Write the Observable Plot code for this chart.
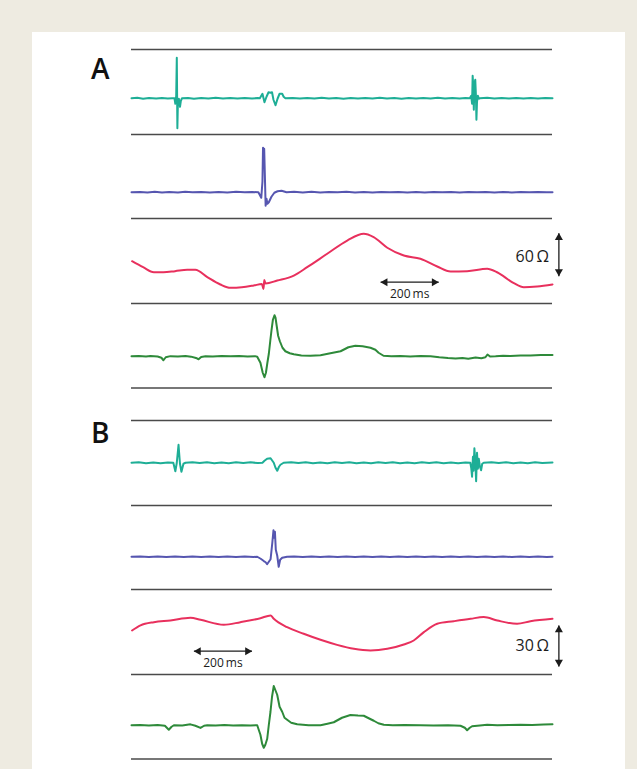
<!DOCTYPE html>
<html><head><meta charset="utf-8">
<script src="https://cdn.jsdelivr.net/npm/d3@7"></script>
<script src="https://cdn.jsdelivr.net/npm/@observablehq/plot@0.6"></script>
<style>
html,body{margin:0;padding:0;}
body{width:637px;height:769px;background:#eeebe1;position:relative;overflow:hidden;font-family:"Open Sans",sans-serif;}
#panel{position:absolute;left:32px;top:32px;width:593px;height:737px;background:#fff;}
.chart{position:absolute;left:0;}
.lbl{position:absolute;left:91px;font-size:28px;font-weight:600;line-height:28px;color:#111;font-family:"Open Sans",sans-serif;}
</style></head><body>
<div id="panel"></div>
<div class="lbl" style="top:54px">A</div>
<div class="lbl" style="top:418px">B</div>
<div id="charts"></div>
<script>
// time in ms, amplitude in arbitrary units (EGM/ECG) or ohms (impedance)
const panelNames = ["A", "B"];
const channelNames = ["egm1", "egm2", "impedance", "ecg"];

const aTeal = [[0,-6.5],[20,-6.1],[40,-6.9],[60,-6.2],[85,-6.8],[105,-6.2],[125,-6.8],[140,-6.4],[148,-6.5],[151,-12],[154,-4],[156,34],[158,-36.5],[160,-8],[163,-7],[167,-15],[170,-9],[174,-6.5],[195,-6.2],[215,-6.9],[240,-6.2],[265,-6.8],[290,-6.1],[315,-6.8],[340,-6.3],[365,-6.8],[390,-6.2],[415,-6.8],[435,-6.3],[442,-6.5],[451,-2],[458,-10.5],[465,-5],[472,-0.5],[478,-1],[484,-0.5],[489,-8],[496,-13.5],[503,-7],[510,-2],[519,-2],[524,-5],[530,-6.5],[555,-6.2],[580,-6.8],[605,-6.2],[630,-6.8],[655,-6.1],[680,-6.8],[705,-6.2],[730,-6.9],[755,-6.2],[780,-6.8],[805,-6.2],[830,-6.8],[855,-6.1],[880,-6.8],[905,-6.2],[930,-6.9],[955,-6.2],[980,-6.8],[1005,-6.2],[1030,-6.8],[1055,-6.1],[1080,-6.8],[1105,-6.2],[1130,-6.8],[1150,-6.3],[1165,-6.5],[1170,-4],[1173,-12],[1175,16],[1177,6],[1179,-18],[1181,8],[1184,12],[1186,-2],[1188,-28],[1190,-10],[1193,-4],[1197,-7],[1200,-6.5],[1225,-6.1],[1250,-6.8],[1275,-6.2],[1300,-6.8],[1325,-6.2],[1350,-6.8],[1375,-6.2],[1400,-6.8],[1425,-6.2],[1450,-6.5]];

const aBlue = [[0,-15.5],[30,-15.2],[55,-15.7],[80,-15.1],[105,-15.8],[130,-15.2],[160,-15.7],[185,-14.9],[210,-15.6],[240,-15.2],[270,-15.8],[300,-15.2],[330,-15.7],[360,-15.1],[390,-15.6],[415,-15.3],[437,-15.5],[447,-21],[451,-5],[453,29],[455,18],[457,28],[459,5],[462,-29],[465,-22],[468,-27],[473,-25.5],[482,-20],[492,-16],[503,-14.5],[517,-14],[534,-15.5],[560,-15.1],[590,-15.7],[620,-15.1],[650,-15.7],[680,-15.2],[710,-15.6],[740,-15.1],[770,-15.7],[800,-15.2],[830,-15.8],[860,-15.2],[890,-15.6],[920,-15.2],[950,-15.7],[980,-15.2],[1010,-15.8],[1040,-15.2],[1070,-15.6],[1100,-15.2],[1130,-15.7],[1160,-15.2],[1190,-15.6],[1220,-15.2],[1250,-15.7],[1280,-15.2],[1310,-15.7],[1340,-15.3],[1370,-15.6],[1400,-15.2],[1430,-15.6],[1450,-15.4]];

const aRed = [[2,-0.6],[40,-9],[77,-16.0],[110,-16.0],[150,-14.5],[192,-12.6],[220,-12.6],[261,-22.9],[306,-33.1],[341,-37.7],[380,-37],[421,-34.5],[449,-32.4],[454.6,-39.4],[457.4,-26.9],[461.5,-31.7],[502,-27.6],[559,-20.6],[605,-9.0],[674,9.7],[743,28.2],[800,37.6],[834,32.9],[881,18.1],[938,7.3],[995,2.7],[1053,-8.0],[1099,-15.0],[1156,-14.6],[1225,-11.2],[1259,-16.0],[1317,-31.3],[1351,-36.9],[1397,-35.9],[1450,-33.1]];

const aGreen = [[0,-10.5],[25,-10.2],[50,-10.8],[65,-10.3],[90,-10.7],[103,-12],[110,-14.5],[118,-11.5],[134,-10.4],[160,-10.7],[186,-10.2],[205,-10.9],[222,-12.2],[231,-13.5],[240,-11.2],[255,-10.4],[280,-10.7],[310,-10.2],[341,-10.6],[370,-10.3],[400,-10.7],[425,-10.4],[433,-11],[444,-17],[452,-27],[458,-31.5],[463,-27],[468,-17],[473,-8],[478,5],[482,15],[487,26],[492.5,30.5],[496,28],[500,20],[505,10],[511,4.5],[520,-2],[530,-5.5],[545,-7.5],[559,-8.5],[585,-9.8],[616,-10],[651,-9.5],[685,-7.5],[720,-5.5],[747,-1.5],[771,0],[796,-0.5],[823,-2],[840,-4],[851,-7],[868,-10],[895,-10.5],[926,-10.2],[960,-10.7],[995,-10.2],[1030,-10.5],[1060,-11.5],[1090,-12.3],[1116,-12.8],[1140,-12.3],[1160,-13],[1185,-11.8],[1205,-12.4],[1219,-11.5],[1226,-8.8],[1235,-10.8],[1254,-10.6],[1280,-10],[1305,-10.2],[1340,-9.7],[1374,-9.8],[1410,-9.3],[1450,-9.3]];

const bTeal = [[0,0],[25,0.4],[50,-0.4],[75,0.3],[100,-0.4],[125,0.3],[144,0],[151,-8.5],[156,0],[160,12],[162,18],[164,10],[167,-1],[172,-9],[179,-1],[186,0],[210,0.4],[235,-0.3],[260,0.4],[285,-0.4],[310,0.3],[335,-0.4],[360,0.4],[385,-0.3],[410,0.4],[435,-0.3],[451,0],[458,2],[467,4],[479,4.5],[490,0],[496,-5],[502,-8],[508,-4],[513,-2],[524,0],[550,0.4],[575,-0.3],[600,0.4],[625,-0.4],[650,0.3],[675,-0.4],[700,0.4],[725,-0.3],[750,0.4],[775,-0.4],[800,0.3],[825,-0.4],[850,0.4],[875,-0.3],[900,0.4],[925,-0.4],[950,0.3],[975,-0.4],[1000,0.4],[1025,-0.3],[1050,0.4],[1075,-0.4],[1100,0.3],[1125,-0.4],[1150,0.3],[1167,0],[1170,-5],[1173,-14],[1176,6],[1178,-8],[1181,14.5],[1184,2],[1187,-18.5],[1190,10],[1193,-6],[1196,4],[1200,-4],[1204,-7.5],[1208,-1],[1213,0],[1240,0.4],[1265,-0.3],[1290,0.4],[1315,-0.4],[1340,0.3],[1365,-0.4],[1390,0.4],[1415,-0.3],[1450,0.2]];

const bBlue = [[0,-9],[30,-8.7],[60,-9.3],[90,-8.7],[120,-9.3],[150,-8.8],[180,-9.3],[210,-8.7],[240,-9.2],[270,-8.8],[300,-9.3],[330,-8.7],[360,-9.2],[390,-8.8],[420,-9.2],[433,-9],[445,-11],[455.6,-13.3],[462,-14.5],[467,-16.5],[473,-14],[479,-11.5],[485,5],[489,17.5],[492,10],[494,16],[497,-2],[502,-8],[507,-19],[512,-12],[519,-10],[536,-9],[560,-8.7],[590,-9.3],[620,-8.7],[650,-9.2],[680,-8.8],[710,-9.3],[740,-8.7],[770,-9.2],[800,-8.8],[830,-9.3],[860,-8.7],[890,-9.2],[920,-8.8],[950,-9.3],[980,-8.7],[1010,-9.2],[1040,-8.8],[1070,-9.3],[1100,-8.7],[1130,-9.2],[1160,-8.8],[1190,-9.3],[1220,-8.7],[1250,-9.2],[1280,-8.8],[1310,-9.3],[1340,-8.7],[1370,-9.2],[1400,-8.8],[1430,-9.2],[1450,-9]];

const bRed = [[2,0.9],[31,4.6],[77,7.0],[134,8.2],[203,10.2],[238,8.7],[318,5.1],[375,7.0],[444,9.9],[479,11.9],[490,9.5],[536,3.3],[593,-1.5],[651,-5.9],[708,-9.6],[766,-12.5],[823,-13.7],[881,-12.5],[938,-9.3],[972,-6.4],[1007,-0.3],[1053,5.8],[1110,7.7],[1168,9.5],[1213,10.7],[1260,8.2],[1328,5.8],[1374,7.7],[1450,9.5]];

const bGreen = [[0,-8.5],[30,-8.2],[60,-8.8],[90,-8.3],[115,-9],[128.5,-13],[138,-10],[146,-8.5],[175,-8.7],[203,-7.6],[220,-9],[237.6,-11.2],[250,-9],[261,-8.5],[290,-8.7],[320,-8.3],[350,-8.8],[380,-8.4],[410,-8.7],[433,-8.5],[444,-18],[450,-27],[455.6,-31],[461,-28],[467.4,-22],[473,-8],[478.7,5],[484,20],[490,30.75],[495,27],[501.8,22],[510,10],[519,5],[527,-1],[536,-3],[550,-6],[570.7,-7.5],[610,-8.5],[651,-8.5],[675,-7],[696.7,-5.5],[725,-1],[754,1.75],[780,1.2],[800,1],[817,-1.5],[834.5,-4],[850,-6.5],[869,-8],[900,-8.5],[940,-8.3],[995,-8.5],[1040,-8.7],[1090,-8.4],[1133,-9],[1148,-11],[1156,-13.5],[1165,-11],[1173,-9.5],[1200,-8.7],[1225,-8.1],[1260,-8.5],[1300,-8.2],[1340,-8],[1380,-8.3],[1420,-7.8],[1450,-7.6]];

// scale bars (values: 200 ms, 60 Ω / 30 Ω)
const scaleBarA = {ohm: 60, ms: 200, ohmLabel: "60\u2009Ω", msLabel: "200\u2009ms"};
const scaleBarB = {ohm: 30, ms: 200, ohmLabel: "30\u2009Ω", msLabel: "200\u2009ms"};

// ---- layout (not data) ----
const colors = {egm1: "#1eae96", egm2: "#5656b0", impedance: "#e8305d", ecg: "#2e8a3a"};
const ink = "#1c1c1c";
const ruleColor = "#4a4a4a";
const pitch = 84.5;
const panelTops = {A: 49, B: 420};
const tracesByPanel = {A: [aTeal, aBlue, aRed, aGreen], B: [bTeal, bBlue, bRed, bGreen]};
const halfRange = {A: [42.25, 42.25, 58.9, 42.25], B: [42.25, 42.25, 30.9, 42.25]};
const barPlacement = {
  A: {barX: 1472, ohmFrom: -21.5, msFrom: 858, msY: -29.9, ohmLabelAt: [1438, 5.9], msLabelAt: [958, -47]},
  B: {barX: 1472, ohmFrom: -25.4, msFrom: 215, msY: -14.2, ohmLabelAt: [1438, -10.6], msLabelAt: [315, -22.9]}
};

function scaleBarMarks(bar, place) {
  const v = [{x: place.barX, y1: place.ohmFrom, y2: place.ohmFrom + bar.ohm}];
  const h = [{x1: place.msFrom, x2: place.msFrom + bar.ms, y: place.msY}];
  const tri = {symbol: "triangle", r: 3, fill: ink, stroke: "none"};
  return [
    Plot.link(v, {x1: "x", x2: "x", y1: "y1", y2: "y2", stroke: ink, strokeWidth: 1.3}),
    Plot.link(h, {x1: "x1", x2: "x2", y1: "y", y2: "y", stroke: ink, strokeWidth: 1.3}),
    Plot.dot(v, {x: "x", y: "y2", ...tri, rotate: 0, dy: 4.5}),
    Plot.dot(v, {x: "x", y: "y1", ...tri, rotate: 180, dy: -4.5}),
    Plot.dot(h, {x: "x1", y: "y", ...tri, rotate: -90, dx: 4.5}),
    Plot.dot(h, {x: "x2", y: "y", ...tri, rotate: 90, dx: -4.5}),
    Plot.text([bar.ohmLabel], {x: () => place.ohmLabelAt[0], y: () => place.ohmLabelAt[1], text: d => d, textAnchor: "end", fontSize: 16, fill: ink, fontFamily: "Open Sans"}),
    Plot.text([bar.msLabel], {x: () => place.msLabelAt[0], y: () => place.msLabelAt[1], text: d => d, fontSize: 12, fill: ink, fontFamily: "Open Sans"})
  ];
}

const host = document.getElementById("charts");
for (const p of panelNames) {
  tracesByPanel[p].forEach((trace, i) => {
    const hr = halfRange[p][i];
    const name = channelNames[i];
    const marks = [
      Plot.ruleY([hr], {stroke: ruleColor, strokeWidth: 1.5}),
      Plot.line(trace, {x: d => d[0], y: d => d[1], stroke: colors[name], strokeWidth: 2, curve: name === "impedance" ? "monotone-x" : "linear", strokeLinejoin: "round"})
    ];
    if (i === 3) marks.push(Plot.ruleY([-hr], {stroke: ruleColor, strokeWidth: 1.5}));
    if (name === "impedance") marks.push(...scaleBarMarks(p === "A" ? scaleBarA : scaleBarB, barPlacement[p]));
    const chart = Plot.plot({
      width: 637, height: pitch + 4,
      marginLeft: 131, marginRight: 85, marginTop: 2, marginBottom: 2,
      x: {domain: [0, 1450], axis: null},
      y: {domain: [-hr, hr], axis: null},
      style: {background: "none", overflow: "visible"},
      marks
    });
    const wrap = document.createElement("div");
    wrap.className = "chart";
    wrap.style.top = (panelTops[p] + pitch * i - 2) + "px";
    wrap.appendChild(chart);
    host.appendChild(wrap);
  });
}
</script>
</body></html>
